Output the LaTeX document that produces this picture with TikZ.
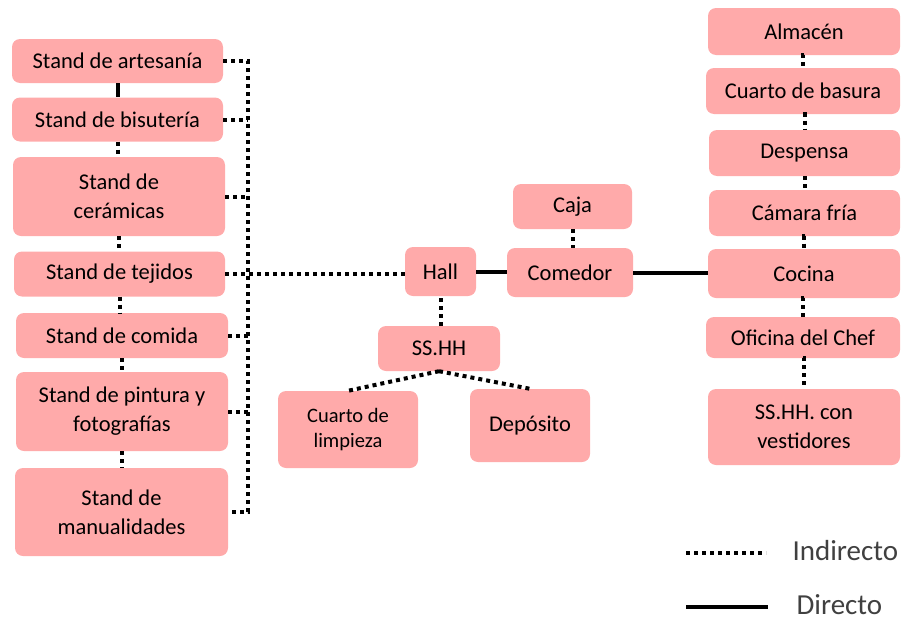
\documentclass[tikz,border=0pt]{standalone}
\usepackage{fontspec}
\setmainfont{Carlito}
\usepackage{tikz}
\definecolor{roompink}{RGB}{255,170,170}
\definecolor{legendgray}{RGB}{64,64,64}
\tikzset{room/.style={fill=roompink, rounded corners=8pt, align=center, inner sep=0pt, font=\fontsize{22.5}{29}\selectfont},
indir/.style={line width=4pt, dash pattern=on 4pt off 4pt},
dir/.style={line width=4pt}}
\newcommand{\roomnode}[6]{\node[room, minimum width=#4, minimum height=#5] (#1) at (#2,#3) {#6};}

\begin{document}
\begin{tikzpicture}[x=1pt,y=-1pt]
\useasboundingbox (0,0) rectangle (903,624);
% left column, stands
\roomnode{art}{117.5}{61}{211pt}{44pt}{Stand de artesanía}
\roomnode{bis}{117.5}{119.5}{211pt}{44pt}{Stand de bisutería}
\roomnode{cer}{119}{196.5}{212pt}{79pt}{Stand de\\cerámicas}
\roomnode{tej}{119.5}{274}{211pt}{45pt}{Stand de tejidos}
\roomnode{cmd}{122}{335.5}{212pt}{45pt}{Stand de comida}
\roomnode{pin}{122}{411.5}{212pt}{79pt}{Stand de pintura y\\fotografías}
\roomnode{man}{121.5}{512}{213pt}{88pt}{Stand de\\manualidades}
% middle
\roomnode{hall}{440.5}{271.5}{71pt}{49pt}{Hall}
\roomnode{com}{570}{272.5}{126pt}{49pt}{Comedor}
\roomnode{caja}{572.5}{206.5}{119pt}{45pt}{Caja}
\roomnode{ssh}{439}{348.5}{122pt}{45pt}{SS.HH}
\node[room, minimum width=140pt, minimum height=77pt, font=\fontsize{20.5}{25}\selectfont] (limp) at (348,429.5) {Cuarto de\\limpieza};
\roomnode{dep}{530}{425.5}{120pt}{73pt}{Depósito}
% right column, kitchen
\roomnode{alm}{804}{31.5}{192pt}{47pt}{Almacén}
\roomnode{bas}{803}{91}{194pt}{46pt}{Cuarto de basura}
\roomnode{desp}{804.5}{153}{191pt}{46pt}{Despensa}
\roomnode{cam}{804.5}{213}{191pt}{46pt}{Cámara fría}
\roomnode{coc}{804}{273.5}{192pt}{49pt}{Cocina}
\roomnode{ofi}{803}{337.5}{194pt}{41pt}{Oficina del Chef}
\roomnode{vest}{804}{427}{192pt}{76pt}{SS.HH. con\\vestidores}
% connectors
\draw[dir] (art.south) -- (bis.north);
\foreach \a/\b in {bis/cer, cer/tej, tej/cmd, cmd/pin, pin/man}
  \draw[indir] (\a.south) -- (\a.south |- \b.north);
\coordinate (bus) at (248,0);
\draw[indir] (art.east) -- (art.east -| bus) -- (man.east -| bus) -- (man.east);
\foreach \s in {bis, cer, tej, cmd, pin}
  \draw[indir] (\s.east) -- (\s.east -| bus);
\draw[indir] (tej.east) -- (tej.east -| hall.west);
\draw[dir] (hall.east) -- (hall.east -| com.west);
\draw[dir] (com.east) -- (com.east -| coc.west);
\draw[indir] (caja.south) -- (caja.south |- com.north);
\draw[indir] (ssh.north -| hall.south) -- (hall.south);
\draw[indir] (ssh.south) -- (limp.north);
\draw[indir] (ssh.south) -- (dep.north);
\foreach \a/\b in {alm/bas, bas/desp, desp/cam, cam/coc, coc/ofi, ofi/vest}
  \draw[indir] (\a.south) -- (\a.south -| \b.north) -- (\b.north);
% legend
\coordinate (lgi1) at (686,553);
\coordinate (lgi2) at (766,553);
\coordinate (lgd1) at (686,607);
\coordinate (lgd2) at (768,607);
\draw[indir] (lgi1) -- (lgi2);
\draw[dir] (lgd1) -- (lgd2);
\node[anchor=west, text=legendgray, font=\fontsize{29}{33}\selectfont] (lgind) at (789,551) {Indirecto};
\node[anchor=west, text=legendgray, font=\fontsize{29}{33}\selectfont] (lgdir) at (793,605) {Directo};
\end{tikzpicture}
\end{document}
